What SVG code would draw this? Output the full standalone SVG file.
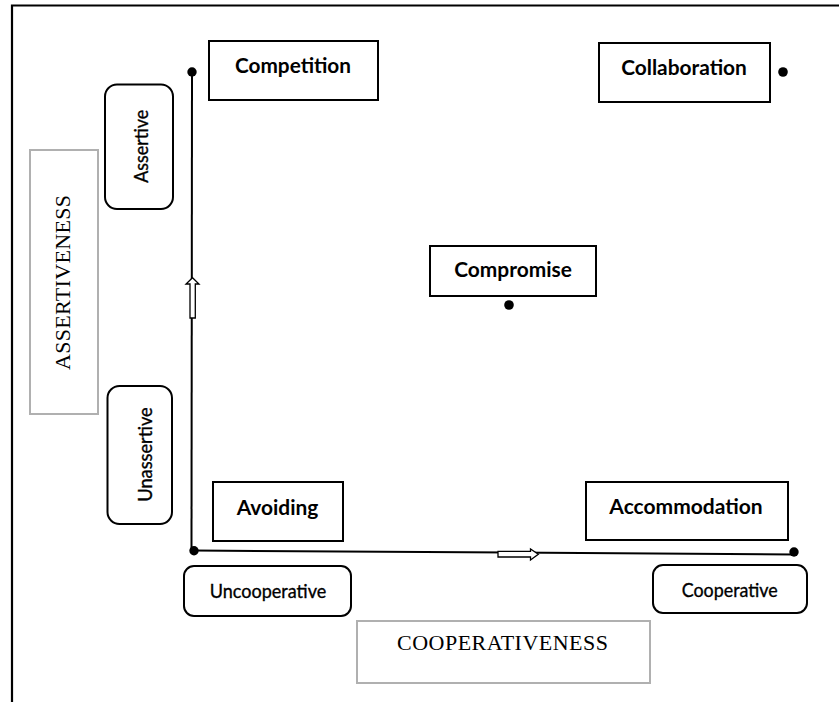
<svg xmlns="http://www.w3.org/2000/svg" width="839" height="702" viewBox="0 0 839 702">
  <style>
    .frame { fill: none; stroke: #000; stroke-width: 2.2; }
    .box { fill: #fff; stroke: #000; stroke-width: 2; }
    .pill { fill: #fff; stroke: #000; stroke-width: 2; }
    .axisbox { fill: #fff; stroke: #b0b0b0; stroke-width: 2; }
    .style { font-family: Lato, "Open Sans", "Liberation Sans", sans-serif; font-weight: 700; font-size: 21px; fill: #000; text-anchor: middle; }
    .pole { font-family: Lato, "Open Sans", "Liberation Sans", sans-serif; font-weight: 400; font-size: 20px; fill: #000; stroke: #000; stroke-width: 0.35; text-anchor: middle; }
    .axis { font-family: "Liberation Serif", "Times New Roman", serif; font-size: 22px; fill: #000; text-anchor: middle; }
    .line { fill: none; stroke: #000; stroke-width: 2; }
    .hollow { fill: #fff; stroke: #000; stroke-width: 1.3; }
    .dot { fill: #000; }
  </style>

  <!-- outer frame (only top and left edges fall inside the view) -->
  <path class="frame" d="M12,702 L12,5.5 L839,5.5"/>

  <!-- axes and direction markers -->
  <g id="connectors">
    <path class="line" d="M192,72 L191.5,550.5"/>
    <path class="line" d="M194,550.5 L794,554.5"/>
    <polygon class="hollow" points="190,318 190,284 186,284 192.5,277.7 199,284 195.3,284 195.3,318"/>
    <polygon class="hollow" points="498,551.3 530.5,551.3 530.5,549 538.3,554.2 530.5,560 530.5,557 498,557"/>
    <circle class="dot" cx="192" cy="72" r="4.7"/>
    <circle class="dot" cx="194" cy="550.7" r="4.7"/>
    <circle class="dot" cx="794" cy="552" r="4.7"/>
    <circle class="dot" cx="783" cy="72" r="4.8"/>
    <circle class="dot" cx="509" cy="305" r="4.8"/>
  </g>

  <!-- axis titles -->
  <g id="assertiveness">
    <rect class="axisbox" x="30" y="150" width="68" height="264"/>
    <text class="axis" transform="translate(70,282.5) rotate(-90)" x="0" y="0" textLength="175">ASSERTIVENESS</text>
  </g>
  <g id="cooperativeness">
    <rect class="axisbox" x="357" y="621" width="293" height="62"/>
    <text class="axis" x="502.5" y="650" textLength="211">COOPERATIVENESS</text>
  </g>

  <!-- axis poles -->
  <g id="assertive">
    <rect class="pill" x="105" y="84.5" width="68" height="124.5" rx="12"/>
    <text class="pole" transform="translate(148.3,146.3) rotate(-90)" x="0" y="0" textLength="73" lengthAdjust="spacingAndGlyphs">Assertive</text>
  </g>
  <g id="unassertive">
    <rect class="pill" x="107.5" y="386" width="64.5" height="138" rx="12"/>
    <text class="pole" transform="translate(151.5,454.5) rotate(-90)" x="0" y="0" textLength="94.5" lengthAdjust="spacingAndGlyphs">Unassertive</text>
  </g>
  <g id="uncooperative">
    <rect class="pill" x="184" y="566" width="167" height="50" rx="10"/>
    <text class="pole" x="268" y="598" textLength="116.5" lengthAdjust="spacingAndGlyphs">Uncooperative</text>
  </g>
  <g id="cooperative">
    <rect class="pill" x="653" y="565" width="154" height="48" rx="10"/>
    <text class="pole" x="729.7" y="597" textLength="96" lengthAdjust="spacingAndGlyphs">Cooperative</text>
  </g>

  <!-- conflict styles -->
  <g id="competition">
    <rect class="box" x="209" y="41" width="169" height="59"/>
    <text class="style" x="293" y="72.6" textLength="116" lengthAdjust="spacingAndGlyphs">Competition</text>
  </g>
  <g id="collaboration">
    <rect class="box" x="599" y="43" width="171" height="59"/>
    <text class="style" x="684" y="75" textLength="125.7" lengthAdjust="spacingAndGlyphs">Collaboration</text>
  </g>
  <g id="compromise">
    <rect class="box" x="430" y="246" width="166" height="50"/>
    <text class="style" x="513" y="277" textLength="117.7" lengthAdjust="spacingAndGlyphs">Compromise</text>
  </g>
  <g id="avoiding">
    <rect class="box" x="213" y="482" width="130" height="59"/>
    <text class="style" x="277.5" y="515" textLength="81.7" lengthAdjust="spacingAndGlyphs">Avoiding</text>
  </g>
  <g id="accommodation">
    <rect class="box" x="586" y="482" width="202" height="58"/>
    <text class="style" x="686" y="514" textLength="153.3" lengthAdjust="spacingAndGlyphs">Accommodation</text>
  </g>
</svg>
